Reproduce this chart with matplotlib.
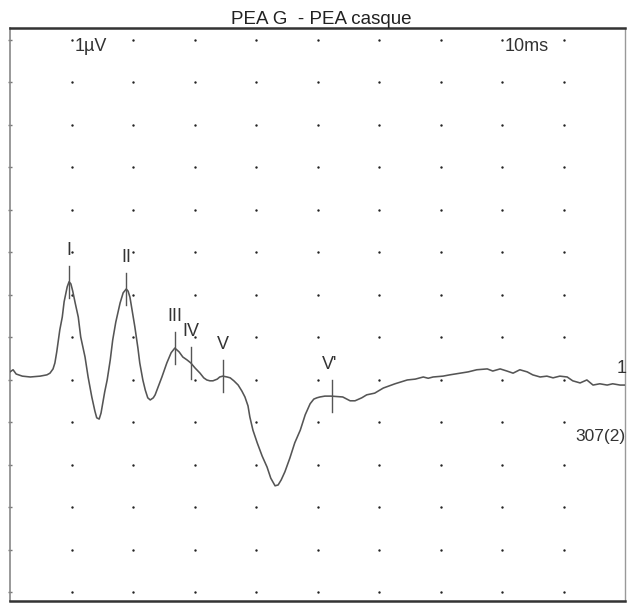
import numpy as np
import matplotlib
matplotlib.use("Agg")
import matplotlib.pyplot as plt

plt.rcParams["font.family"] = ["Liberation Sans", "DejaVu Sans"]

# ---- trace (time in ms, amplitude in vertical divisions) ----
t_ms = [0.00, 0.05, 0.10, 0.20, 0.33, 0.49, 0.60, 0.65, 0.70, 0.73, 0.76, 0.81, 0.85,
        0.88, 0.93, 0.96, 0.99, 1.02, 1.06, 1.11, 1.15, 1.22, 1.27, 1.33, 1.38, 1.41,
        1.45, 1.48, 1.54, 1.58, 1.63, 1.67, 1.72, 1.79, 1.84, 1.89, 1.92, 1.95, 1.98,
        2.03, 2.08, 2.11, 2.16, 2.20, 2.24, 2.28, 2.33, 2.36, 2.41, 2.47, 2.55, 2.62,
        2.68, 2.75, 2.81, 2.88, 2.94, 3.01, 3.09, 3.15, 3.20, 3.25, 3.30, 3.37, 3.41,
        3.46, 3.53, 3.58, 3.64, 3.71, 3.77, 3.82, 3.87, 3.90, 3.95, 4.02, 4.10, 4.18,
        4.24, 4.31, 4.36, 4.41, 4.47, 4.55, 4.63, 4.72, 4.80, 4.88, 4.94, 4.99, 5.04,
        5.12, 5.22, 5.41, 5.53, 5.61, 5.72, 5.80, 5.93, 6.07, 6.26, 6.46, 6.59, 6.72,
        6.80, 6.88, 7.04, 7.15, 7.32, 7.45, 7.59, 7.76, 7.85, 7.97, 8.08, 8.18, 8.29,
        8.41, 8.50, 8.62, 8.73, 8.83, 8.94, 9.06, 9.15, 9.27, 9.38, 9.48, 9.59, 9.71,
        9.80, 9.92, 10.00]
amp = [0.19, 0.24, 0.14, 0.09, 0.07, 0.09, 0.12, 0.16, 0.26, 0.40, 0.66, 1.18, 1.48,
       1.84, 2.19, 2.31, 2.26, 2.09, 1.81, 1.48, 1.01, 0.54, 0.07, -0.40, -0.73, -0.89,
       -0.92, -0.78, -0.28, 0.00, 0.47, 0.94, 1.36, 1.81, 2.05, 2.14, 2.09, 1.95, 1.69,
       1.25, 0.75, 0.40, 0.00, -0.24, -0.42, -0.47, -0.42, -0.35, -0.16, 0.07, 0.40, 0.64,
       0.75, 0.66, 0.54, 0.47, 0.40, 0.28, 0.16, 0.05, 0.00, -0.02, -0.02, 0.02, 0.07,
       0.09, 0.07, 0.05, -0.02, -0.12, -0.26, -0.40, -0.61, -0.87, -1.18, -1.48, -1.79, -2.05,
       -2.31, -2.49, -2.47, -2.35, -2.16, -1.84, -1.48, -1.18, -0.82, -0.56, -0.45, -0.42, -0.40,
       -0.38, -0.38, -0.40, -0.49, -0.49, -0.42, -0.35, -0.31, -0.19, -0.09, 0.00, 0.02, 0.07,
       0.04, 0.07, 0.09, 0.12, 0.16, 0.19, 0.24, 0.26, 0.21, 0.26, 0.21, 0.16, 0.24,
       0.19, 0.12, 0.07, 0.09, 0.05, 0.09, 0.07, -0.02, -0.07, 0.00, -0.12, -0.09, -0.12,
       -0.09, -0.12, -0.12]

# ---- wave markers ----
peak_labels = ["I", "II", "III", "IV", "V", "V'"]
peak_lat = [0.96, 1.89, 2.68, 2.94, 3.46, 5.24]

fig = plt.figure(figsize=(6.27, 6.11), dpi=100)
ax = fig.add_axes([10 / 627, 10 / 611, 615 / 627, 573 / 611])
ax.set_xlim(0, 10)
ax.set_ylim(-5.2, 8.28)

# dotted grid
gx, gy = np.meshgrid(np.arange(1, 10), np.arange(-5, 9))
ax.scatter(gx.ravel(), gy.ravel(), s=3, color="#222222", linewidths=0, zorder=1)

ax.plot(t_ms, amp, color="#555555", lw=1.15, zorder=3)

for lab, lat in zip(peak_labels, peak_lat):
    a = np.interp(lat, t_ms, amp)
    ax.plot([lat, lat], [a - 0.38, a + 0.38], color="#555555", lw=1.0, zorder=4)
    ax.text(lat - (0.04 if lab == "V'" else 0), a + 0.74, lab, ha="center", va="center",
            fontsize=13, color="#333333")

ax.text(1.05, 7.84, "1µV", ha="left", va="center", fontsize=13, color="#333333")
ax.text(8.05, 7.84, "10ms", ha="left", va="center", fontsize=13, color="#333333")
ax.text(9.2, -1.32, "307(2)", ha="left", va="center", fontsize=12.5, color="#333333",
        clip_on=False)
ax.text(9.86, 0.28, "1", ha="left", va="center", fontsize=13, color="#333333",
        clip_on=False)

fig.text(0.513, 1 - 19 / 611, "PEA G  - PEA casque", ha="center", va="center",
         fontsize=13.5, color="#222222")

ax.set_xticks([])
ax.set_yticks(np.arange(-5, 9))
ax.set_yticklabels([])
ax.tick_params(axis="y", length=2.5, direction="inout", color="#777777", width=1)
for side, lw, c in [("top", 1.8, "#333333"), ("bottom", 1.8, "#333333"),
                    ("left", 1.2, "#888888"), ("right", 1.0, "#999999")]:
    ax.spines[side].set_linewidth(lw)
    ax.spines[side].set_color(c)

fig.savefig("out.png", dpi=100)
